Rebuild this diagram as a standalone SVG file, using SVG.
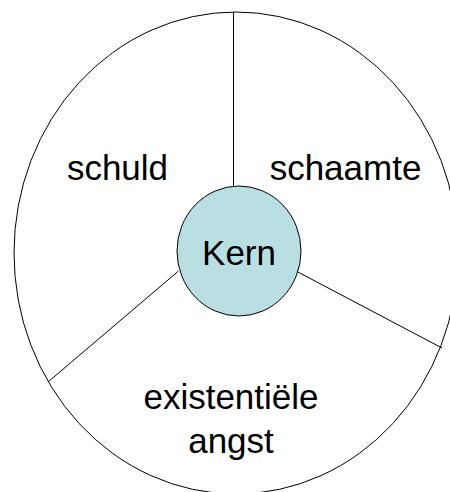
<svg xmlns="http://www.w3.org/2000/svg" width="450" height="492" viewBox="0 0 450 492">
<style>
.shape{fill:none;stroke:#000;stroke-width:1}
.core{fill:#b9dfe2;stroke:#000;stroke-width:1}
.lbl{font-family:"Liberation Sans",Arial,sans-serif;font-size:35px;fill:#000;text-anchor:middle}
</style>
<rect width="450" height="492" fill="#fff"/>
<g id="outer">
<ellipse class="shape" cx="236" cy="253" rx="222" ry="241"/>
</g>
<g id="connectors">
<line class="shape" x1="233.5" y1="12" x2="233.5" y2="186.5"/>
<line class="shape" x1="296" y1="271" x2="442" y2="348"/>
<line class="shape" x1="178.5" y1="271" x2="48" y2="382"/>
</g>
<g id="schuld"><text class="lbl" x="117.5" y="179.5">schuld</text></g>
<g id="schaamte"><text class="lbl" x="345.5" y="179.5">schaamte</text></g>
<g id="angst"><text class="lbl" x="231" y="409">existentiële</text><text class="lbl" x="231" y="453">angst</text></g>
<g id="kern">
<ellipse class="core" cx="239" cy="251" rx="62" ry="65"/>
<text class="lbl" x="239" y="265">Kern</text>
</g>
</svg>
